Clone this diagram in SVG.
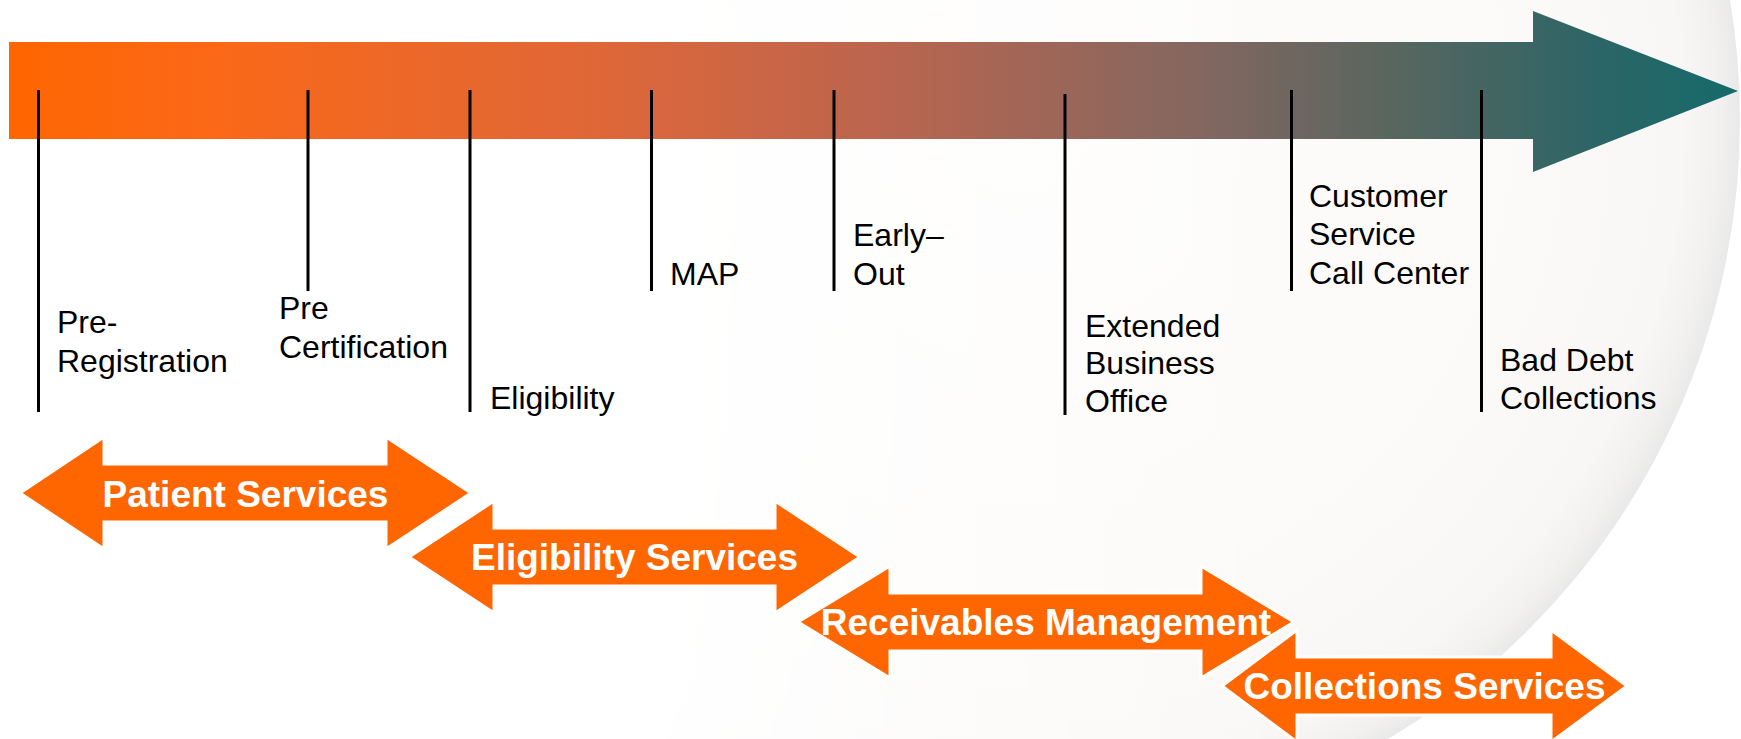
<svg xmlns="http://www.w3.org/2000/svg" width="1741" height="739" viewBox="0 0 1741 739">
  <defs>
    <linearGradient id="mainGrad" gradientUnits="userSpaceOnUse" x1="9" y1="0" x2="1738" y2="0">
      <stop offset="0" stop-color="#FF6600"/>
      <stop offset="0.12" stop-color="#FA6818"/>
      <stop offset="0.34" stop-color="#DF6738"/>
      <stop offset="0.5" stop-color="#BC654E"/>
      <stop offset="0.69" stop-color="#836760"/>
      <stop offset="0.8" stop-color="#58665F"/>
      <stop offset="0.92" stop-color="#2C6567"/>
      <stop offset="1" stop-color="#156A6A"/>
    </linearGradient>
    <radialGradient id="sphere" gradientUnits="userSpaceOnUse" cx="1020" cy="120" r="720">
      <stop offset="0" stop-color="#FEFDFC"/>
      <stop offset="0.7" stop-color="#FCFAF8"/>
      <stop offset="0.92" stop-color="#F9F7F5"/>
      <stop offset="0.975" stop-color="#F1F0EF"/>
      <stop offset="1" stop-color="#E9E9E9"/>
    </radialGradient>
    <linearGradient id="fadeGrad" gradientUnits="userSpaceOnUse" x1="650" y1="0" x2="1300" y2="0">
      <stop offset="0" stop-color="#000000"/>
      <stop offset="1" stop-color="#FFFFFF"/>
    </linearGradient>
    <mask id="sphereMask" maskUnits="userSpaceOnUse" x="0" y="0" width="1741" height="739">
      <rect x="0" y="0" width="1741" height="739" fill="url(#fadeGrad)"/>
    </mask>
    <style>
      .tick { stroke: #000000; stroke-width: 3; fill: none; }
      .lbl { font-family: "Liberation Sans", Arial, sans-serif; font-size: 32px; fill: #000000; }
      .dbl { fill: #FF6600; stroke: #FFFFFF; stroke-width: 3; stroke-linejoin: miter; }
      .dtxt { font-family: "Liberation Sans", Arial, sans-serif; font-size: 37px; font-weight: bold; fill: #FFFFFF; text-anchor: middle; }
    </style>
  </defs>

  <g id="background">
    <rect x="0" y="0" width="1741" height="739" fill="#FFFFFF"/>
    <circle cx="1020" cy="120" r="720" fill="url(#sphere)" mask="url(#sphereMask)"/>
  </g>

  <g id="timeline-arrow">
    <polygon points="9,42 1533,42 1533,11 1738,91 1533,172 1533,139 9,139" fill="url(#mainGrad)"/>
  </g>

  <g id="connectors">
    <line class="tick" x1="38.5" y1="90" x2="38.5" y2="412"/>
    <line class="tick" x1="308" y1="90" x2="308" y2="291"/>
    <line class="tick" x1="470" y1="90" x2="470" y2="412"/>
    <line class="tick" x1="651.5" y1="90" x2="651.5" y2="291"/>
    <line class="tick" x1="834" y1="90" x2="834" y2="291"/>
    <line class="tick" x1="1065" y1="94" x2="1065" y2="415"/>
    <line class="tick" x1="1291.5" y1="90" x2="1291.5" y2="291"/>
    <line class="tick" x1="1481.5" y1="90" x2="1481.5" y2="412"/>
  </g>

  <g id="pre-registration">
    <text class="lbl" x="57" y="333">Pre-</text>
    <text class="lbl" x="57" y="372">Registration</text>
  </g>
  <g id="pre-certification">
    <text class="lbl" x="279" y="319">Pre</text>
    <text class="lbl" x="279" y="358">Certification</text>
  </g>
  <g id="eligibility">
    <text class="lbl" x="490" y="409">Eligibility</text>
  </g>
  <g id="map">
    <text class="lbl" x="670" y="285">MAP</text>
  </g>
  <g id="early-out">
    <text class="lbl" x="853" y="246">Early–</text>
    <text class="lbl" x="853" y="285">Out</text>
  </g>
  <g id="extended-business-office">
    <text class="lbl" x="1085" y="336.5">Extended</text>
    <text class="lbl" x="1085" y="374">Business</text>
    <text class="lbl" x="1085" y="411.5">Office</text>
  </g>
  <g id="customer-service">
    <text class="lbl" x="1309" y="207">Customer</text>
    <text class="lbl" x="1309" y="245">Service</text>
    <text class="lbl" x="1309" y="284">Call Center</text>
  </g>
  <g id="bad-debt">
    <text class="lbl" x="1500" y="371">Bad Debt</text>
    <text class="lbl" x="1500" y="409">Collections</text>
  </g>

  <g id="patient-services">
    <polygon class="dbl" points="20,493 104,437 104,464 386,464 386,437 471,493 386,549 386,522 104,522 104,549"/>
    <text class="dtxt" x="245.5" y="507">Patient Services</text>
  </g>
  <g id="eligibility-services">
    <polygon class="dbl" points="409,557 494,501 494,528 775,528 775,501 860,557 775,613 775,586 494,586 494,613"/>
    <text class="dtxt" x="634.5" y="570">Eligibility Services</text>
  </g>
  <g id="receivables-management">
    <polygon class="dbl" points="798,622 890,566 890,593 1201,593 1201,566 1294,622 1201,678 1201,651 890,651 890,678"/>
    <text class="dtxt" x="1046" y="635">Receivables Management</text>
  </g>
  <g id="collections-services">
    <polygon class="dbl" points="1222,686 1297,630 1297,657 1551,657 1551,630 1627,686 1551,742 1551,715 1297,715 1297,742"/>
    <text class="dtxt" x="1424.5" y="699">Collections Services</text>
  </g>
</svg>
